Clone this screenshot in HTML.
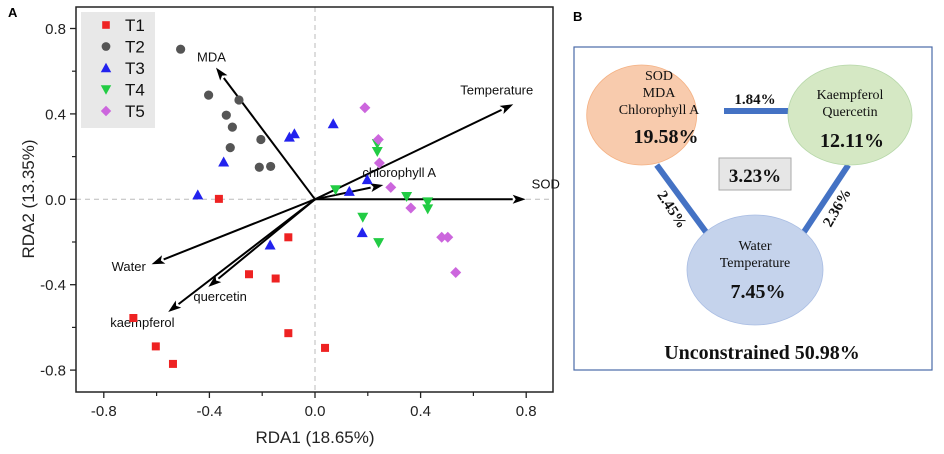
<!DOCTYPE html>
<html><head><meta charset="utf-8">
<style>
body{margin:0;background:#fff;}
svg{display:block;}
.ax{font-family:"Liberation Sans",Arial,sans-serif;}
.tm{font-family:"Liberation Serif","Times New Roman",serif;}
</style></head>
<body>
<svg id="chart" width="944" height="454" viewBox="0 0 944 454" xmlns="http://www.w3.org/2000/svg">
<g id="panelA"></g>
<g id="panelB">
  <text x="573" y="21" class="ax" font-size="13" font-weight="bold">B</text>
  <rect x="574" y="47" width="358" height="323" fill="none" stroke="#4a6aa8" stroke-width="1.2"/>
  <line x1="724" y1="111" x2="788" y2="111" stroke="#4472c4" stroke-width="6"/>
  <line x1="656.7" y1="165" x2="706.7" y2="233" stroke="#4472c4" stroke-width="6"/>
  <line x1="848.3" y1="165" x2="803.3" y2="233" stroke="#4472c4" stroke-width="6"/>
  <ellipse cx="641.7" cy="115" rx="55" ry="50" fill="#f8cbad" stroke="#f4b183" stroke-width="0.8"/>
  <ellipse cx="850" cy="115" rx="62" ry="50" fill="#d5e8c4" stroke="#b6d7a8" stroke-width="0.8"/>
  <ellipse cx="755" cy="270" rx="68" ry="55" fill="#c5d3ec" stroke="#a9bde3" stroke-width="0.8"/>
  <g class="tm" text-anchor="middle" fill="#111">
    <text x="659" y="80" font-size="14">SOD</text>
    <text x="659" y="97" font-size="14">MDA</text>
    <text x="659" y="114" font-size="14">Chlorophyll A</text>
    <text x="666" y="143" font-size="20" font-weight="bold">19.58%</text>
    <text x="755" y="104" font-size="15" font-weight="bold">1.84%</text>
    <text x="850" y="99" font-size="14">Kaempferol</text>
    <text x="850" y="116" font-size="14">Quercetin</text>
    <text x="852" y="147" font-size="20" font-weight="bold">12.11%</text>
    <rect x="719" y="158" width="72" height="32" fill="#e6e6e6" stroke="#aaa" stroke-width="1"/>
    <text x="755" y="182" font-size="19" font-weight="bold">3.23%</text>
    <text x="0" y="0" font-size="15" font-weight="bold" transform="translate(668,212) rotate(57)">2.45%</text>
    <text x="0" y="0" font-size="15" font-weight="bold" transform="translate(841,210) rotate(-60)">2.36%</text>
    <text x="755" y="250" font-size="14">Water</text>
    <text x="755" y="267" font-size="14">Temperature</text>
    <text x="758" y="298" font-size="20" font-weight="bold">7.45%</text>
    <text x="762" y="359" font-size="20" font-weight="bold">Unconstrained  50.98%</text>
  </g>
</g>
</svg>
<script>
// ---- data ----
const t1x = [-0.364,-0.101,-0.250,-0.149,-0.688,-0.603,-0.538,-0.101,0.038];
const t1y = [0.002,-0.178,-0.351,-0.371,-0.556,-0.689,-0.771,-0.627,-0.696];
const t2x = [-0.509,-0.403,-0.288,-0.336,-0.313,-0.205,-0.321,-0.211,-0.168];
const t2y = [0.703,0.488,0.465,0.394,0.338,0.280,0.242,0.150,0.154];
const t3x = [-0.444,-0.346,-0.097,-0.078,0.069,0.198,0.130,-0.170,0.179];
const t3y = [0.021,0.175,0.291,0.307,0.354,0.092,0.037,-0.214,-0.156];
const t4x = [0.236,0.236,0.078,0.347,0.427,0.427,0.181,0.241];
const t4y = [0.261,0.224,0.045,0.013,-0.012,-0.045,-0.084,-0.203];
const t5x = [0.189,0.240,0.244,0.287,0.363,0.480,0.503,0.533];
const t5y = [0.429,0.280,0.170,0.056,-0.041,-0.178,-0.178,-0.343];
const arrowNames = ["MDA","Temperature","SOD","chlorophyll A","Water","quercetin","kaempferol"];
const arrowX = [-0.375,0.751,0.798,0.259,-0.619,-0.404,-0.556];
const arrowY = [0.617,0.445,0.0,0.067,-0.304,-0.410,-0.528];
const xTicks = [-0.8,-0.4,0.0,0.4,0.8];
const yTicks = [-0.8,-0.4,0.0,0.4,0.8];
const xTickLabels = ["-0.8","-0.4","0.0","0.4","0.8"];
const yTickLabels = ["-0.8","-0.4","0.0","0.4","0.8"];

const NS="http://www.w3.org/2000/svg";
const L=76,R=553,T=7,B=392;
const X0=315,Y0=199.3,KX=264,KY=213.5;
function sx(v){return X0+v*KX;}
function sy(v){return Y0-v*KY;}
const g=document.getElementById('panelA');
function mk(tag,attrs,parent){const e=document.createElementNS(NS,tag);for(const k in attrs)e.setAttribute(k,attrs[k]);(parent||g).appendChild(e);return e;}

let t=mk('text',{x:8,y:17,'font-size':13,'font-weight':'bold',class:'ax'});t.textContent='A';



let e=mk('line',{x1:sx(0),y1:T,x2:sx(0),y2:B,stroke:'#bbb','stroke-dasharray':'5,4','stroke-width':1});


e=mk('line',{x1:L,y1:sy(0),x2:R,y2:sy(0),stroke:'#bbb','stroke-dasharray':'5,4','stroke-width':1});



const lg=mk('g',{});


mk('rect',{x:81,y:12,width:74,height:116,fill:'#e8e8e8'},lg);

function marker(kind,cx,cy,parent,s){
  s=s||1;let m;
  if(kind==='sq') m=mk('rect',{x:cx-4*s,y:cy-4*s,width:8*s,height:8*s,fill:'#ee2222'},parent);
  else if(kind==='ci') m=mk('circle',{cx:cx,cy:cy,r:4.6*s,fill:'#555'},parent);
  else if(kind==='up') m=mk('polygon',{points:`${cx},${cy-5.5*s} ${cx+5.5*s},${cy+4.5*s} ${cx-5.5*s},${cy+4.5*s}`,fill:'#2222ee'},parent);
  else if(kind==='dn') m=mk('polygon',{points:`${cx},${cy+5.5*s} ${cx+5.5*s},${cy-4.5*s} ${cx-5.5*s},${cy-4.5*s}`,fill:'#22cc44'},parent);
  else m=mk('polygon',{points:`${cx},${cy-5.5*s} ${cx+5.5*s},${cy} ${cx},${cy+5.5*s} ${cx-5.5*s},${cy}`,fill:'#cc66dd'},parent);
  return m;
}
const kinds=['sq','ci','up','dn','di'];
const names=['T1','T2','T3','T4','T5'];
kinds.forEach((k,i)=>{
  const cy=25+i*21.5;
  const m=marker(k,106,cy,lg,0.95);
  
  
  const tx=mk('text',{x:125,y:cy+6,'font-size':17,class:'ax',fill:'#111'},lg);tx.textContent=names[i];
  
  
});

const ag=mk('g',{});


const labelOff=[[-19,-6],[-53,-10],[6,-11],[-21,-8],[-40,7],[-15,14],[-58,15]];
arrowNames.forEach((n,i)=>{
  const x2=sx(arrowX[i]),y2=sy(arrowY[i]);
  const dx=x2-sx(0),dy=y2-sy(0),len=Math.hypot(dx,dy),ux=dx/len,uy=dy/len;
  const bx=x2-ux*13,by=y2-uy*13;
  const ln=mk('line',{x1:sx(0),y1:sy(0),x2:bx,y2:by,stroke:'#000','stroke-width':2},ag);
  
  
  const hd=mk('polygon',{points:`${x2},${y2} ${bx-uy*4.5},${by+ux*4.5} ${bx+ux*3},${by+uy*3} ${bx+uy*4.5},${by-ux*4.5}`,fill:'#000'},ag);
  
  
  const tx=mk('text',{x:x2+labelOff[i][0],y:y2+labelOff[i][1],'font-size':13,class:'ax',fill:'#111'},ag);tx.textContent=n;
  
  
});

const series=[[t1x,t1y],[t2x,t2y],[t3x,t3y],[t4x,t4y],[t5x,t5y]];
series.forEach((s,i)=>{
  const sg=mk('g',{});
  
  
  s[0].forEach((v,j)=>{
    const m=marker(kinds[i],sx(v),sy(s[1][j]),sg);
    
    
  });
});

e=mk('rect',{x:L,y:T,width:R-L,height:B-T,fill:'none',stroke:'#222','stroke-width':1.5});



xTicks.forEach((v,i)=>{
  const x=sx(v);
  const tk=mk('line',{x1:x,y1:B,x2:x,y2:B+6,stroke:'#222','stroke-width':1.3});
  
  
  if(i<xTicks.length-1){const mn=mk('line',{x1:sx(v+0.2),y1:B,x2:sx(v+0.2),y2:B+4,stroke:'#222','stroke-width':1.2});
  
  }
  const tx=mk('text',{x:x,y:B+24,'font-size':15,'text-anchor':'middle',class:'ax',fill:'#222'});tx.textContent=xTickLabels[i];
  
  
});
yTicks.forEach((v,i)=>{
  const y=sy(v);
  const tk=mk('line',{x1:L-6,y1:y,x2:L,y2:y,stroke:'#222','stroke-width':1.3});
  
  
  if(i<yTicks.length-1){const mn=mk('line',{x1:L-4,y1:sy(v+0.2),x2:L,y2:sy(v+0.2),stroke:'#222','stroke-width':1.2});
  
  }
  const tx=mk('text',{x:L-10,y:y+5.5,'font-size':15,'text-anchor':'end',class:'ax',fill:'#222'});tx.textContent=yTickLabels[i];
  
  
});
t=mk('text',{x:315,y:443,'font-size':17,'text-anchor':'middle',class:'ax',fill:'#222'});t.textContent='RDA1 (18.65%)';


t=mk('text',{x:0,y:0,'font-size':17,'text-anchor':'middle',class:'ax',fill:'#222',transform:'translate(34,199) rotate(-90)'});t.textContent='RDA2 (13.35%)';


</script>
</body></html>
